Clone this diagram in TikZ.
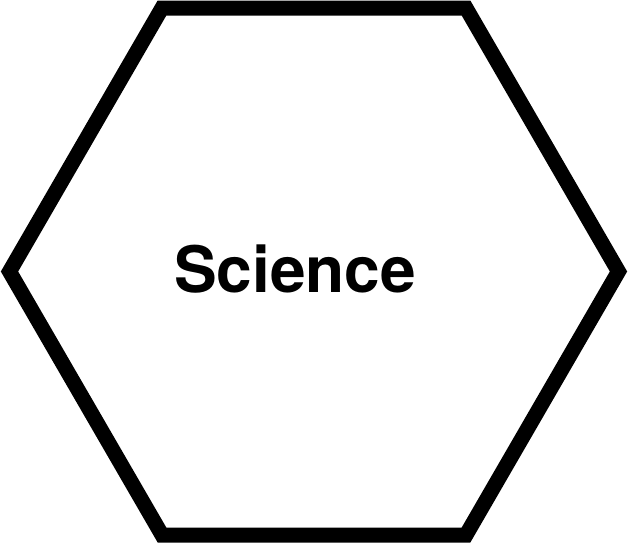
\documentclass[tikz,border=0pt]{standalone}
\usepackage{fontspec}
\setmainfont{TeX Gyre Heros}
\begin{document}
\begin{tikzpicture}[x=1pt,y=-1pt,
  hexline/.style={line width=15pt, line join=miter, draw=black},
  label/.style={font=\bfseries\fontsize{64}{64}\selectfont, inner sep=0pt, anchor=base}]
\useasboundingbox (0,0) rectangle (628,544);
\coordinate (L) at (9.5,271.5);
\coordinate (TL) at (162,8);
\coordinate (TR) at (466,8);
\coordinate (R) at (618.5,271.5);
\coordinate (BR) at (466,535);
\coordinate (BL) at (162,535);
\draw[hexline] (L) -- (TL) -- (TR) -- (R) -- (BR) -- (BL) -- cycle;
\node[label] (sci) at (295,292) {Science};
\end{tikzpicture}
\end{document}
